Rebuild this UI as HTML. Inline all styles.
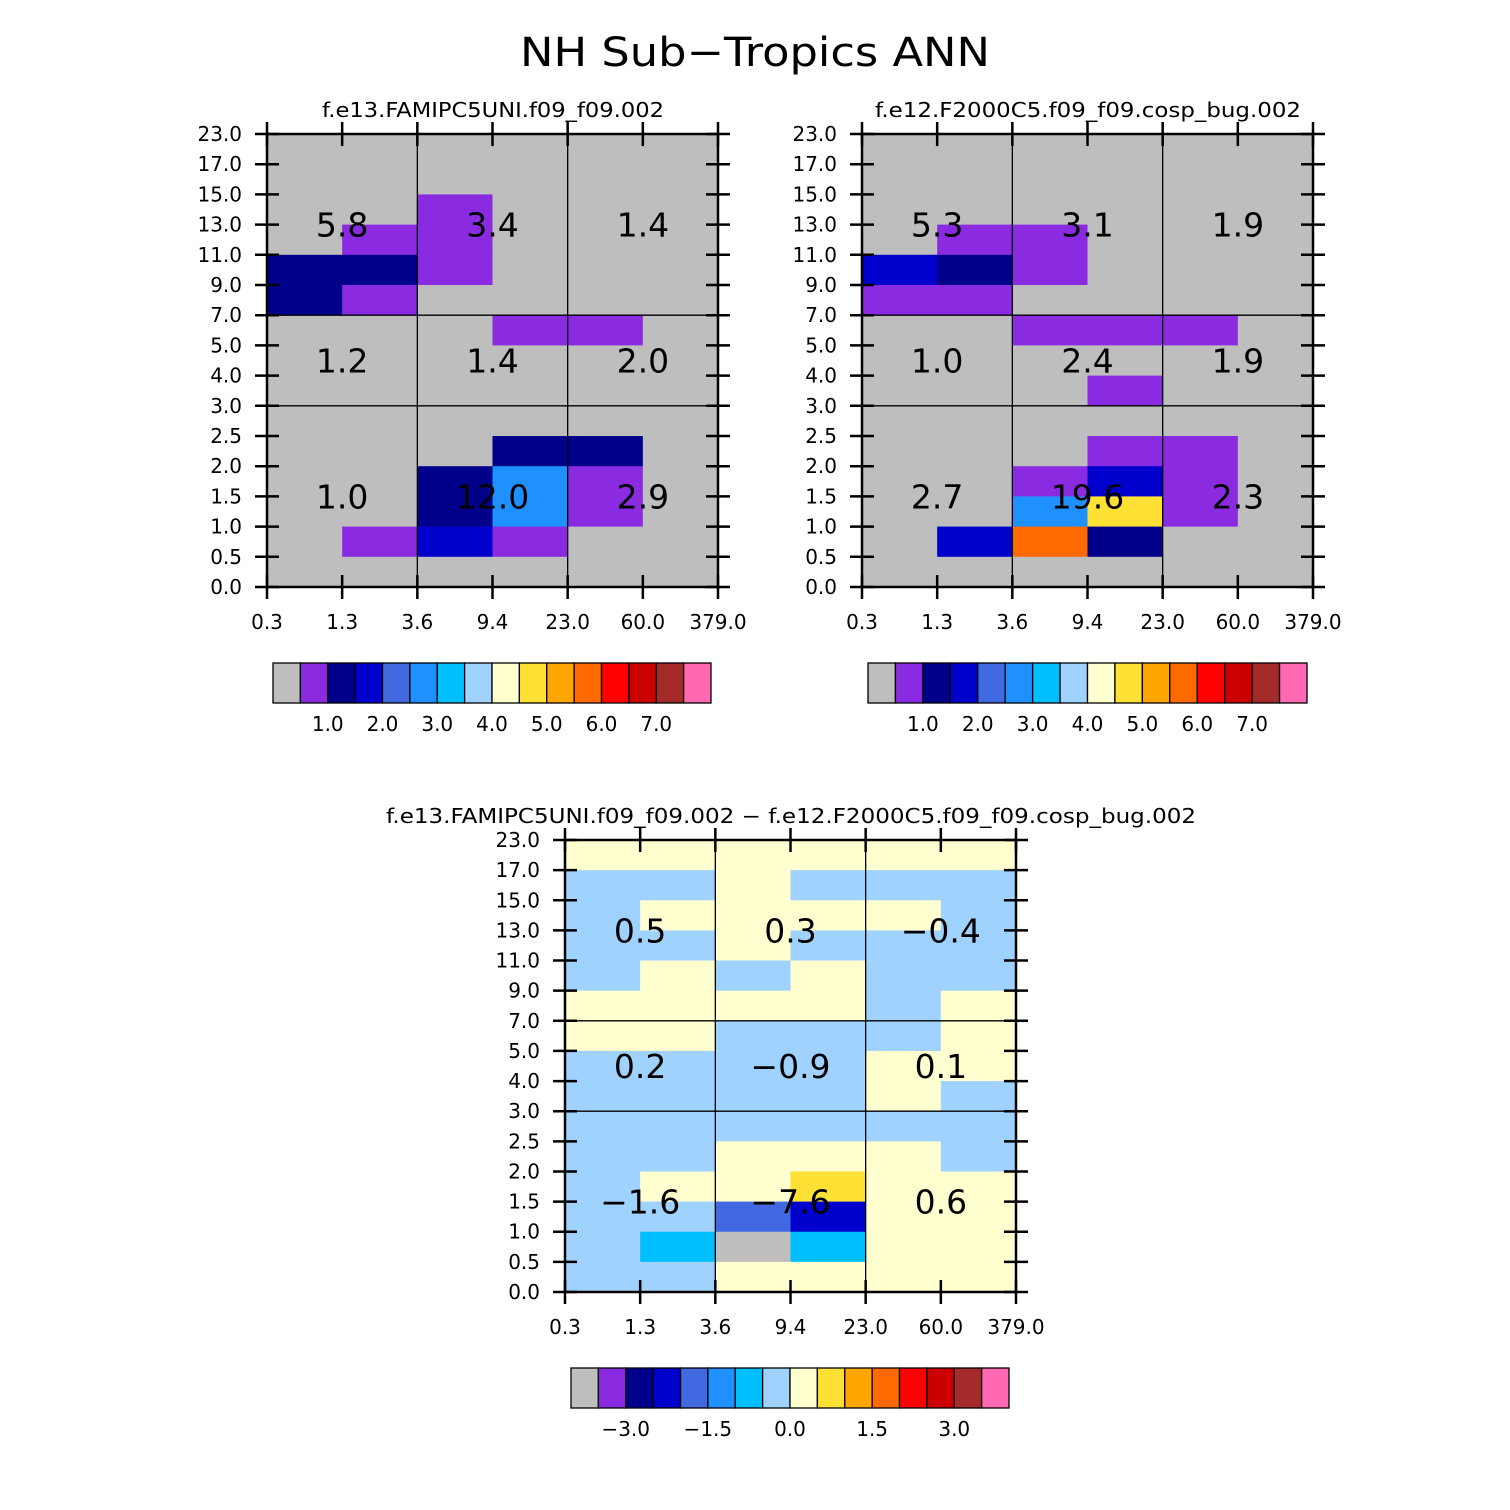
<!DOCTYPE html>
<html><head><meta charset="utf-8"><style>
body{margin:0;background:#fff}
svg{display:block}
text{font-family:"DejaVu Sans","Liberation Sans",sans-serif;fill:#000}
</style></head><body>
<svg id="s" width="1510" height="1510" viewBox="0 0 1510 1510">
<text x="755" y="66" font-size="40" text-anchor="middle" textLength="470" lengthAdjust="spacingAndGlyphs">NH Sub−Tropics ANN</text>
</svg>
<script>
const yTicks=["23.0","17.0","15.0","13.0","11.0","9.0","7.0","5.0","4.0","3.0","2.5","2.0","1.5","1.0","0.5","0.0"];
const xTicks=["0.3","1.3","3.6","9.4","23.0","60.0","379.0"];
const colors=["#bebebe","#8a2be2","#00008b","#0000cd","#4169e1","#1e90ff","#00bfff","#a0d2ff","#ffffd0","#ffe135","#ffa500","#ff6a00","#ff0000","#cc0000","#a52a2a","#ff69b4"];
const absLevels=[0.5,1,1.5,2,2.5,3,3.5,4,4.5,5,5.5,6,6.5,7,7.5];
const absLabels=["1.0","2.0","3.0","4.0","5.0","6.0","7.0"];
const absLabelIdx=[2,4,6,8,10,12,14];
const diffLevels=[-5.25,-4.5,-3.75,-3,-2.25,-1.5,-0.75,0,0.75,1.5,2.25,3,3.75,4.5,5.25];
const diffLabels=["−3.0","−1.5","0.0","1.5","3.0"];
const diffLabelIdx=[2,5,8,11,14];
const p1=[
[.2,.2,.2,.2,.2,.2],[.2,.2,.2,.2,.2,.2],[.2,.2,.8,.2,.2,.2],[.2,.8,.8,.2,.2,.2],
[1.2,1.2,.8,.2,.2,.2],[1.2,.8,.2,.2,.2,.2],[.2,.2,.2,.8,.8,.2],[.2,.2,.2,.2,.2,.2],
[.2,.2,.2,.2,.2,.2],[.2,.2,.2,.2,.2,.2],[.2,.2,.2,1.2,1.2,.2],[.2,.2,1.2,2.7,.8,.2],
[.2,.2,1.2,2.7,.8,.2],[.2,.8,1.7,.8,.2,.2],[.2,.2,.2,.2,.2,.2]];
const p2=[
[.2,.2,.2,.2,.2,.2],[.2,.2,.2,.2,.2,.2],[.2,.2,.2,.2,.2,.2],[.2,.8,.8,.2,.2,.2],
[1.7,1.2,.8,.2,.2,.2],[.8,.8,.2,.2,.2,.2],[.2,.2,.8,.8,.8,.2],[.2,.2,.2,.2,.2,.2],
[.2,.2,.2,.8,.2,.2],[.2,.2,.2,.2,.2,.2],[.2,.2,.2,.8,.8,.2],[.2,.2,.8,1.7,.8,.2],
[.2,.2,2.7,4.7,.8,.2],[.2,1.7,5.7,1.2,.2,.2],[.2,.2,.2,.2,.2,.2]];
const L=-0.3,Y=0.3;
const p3=[
[Y,Y,Y,Y,Y,Y],[L,L,Y,L,L,L],[L,Y,Y,Y,Y,L],[L,L,Y,L,L,L],[L,Y,L,Y,L,L],
[Y,Y,Y,Y,L,Y],[Y,Y,L,L,L,Y],[L,L,L,L,Y,Y],[L,L,L,L,Y,L],[L,L,L,L,L,L],
[L,L,Y,Y,Y,L],[L,Y,Y,0.9,Y,Y],[L,L,-2.5,-3.3,Y,Y],[L,-1,-6,-1,Y,Y],[L,L,Y,Y,Y,Y]];
const v1=["5.8","3.4","1.4","1.2","1.4","2.0","1.0","12.0","2.9"];
const v2=["5.3","3.1","1.9","1.0","2.4","1.9","2.7","19.6","2.3"];
const v3=["0.5","0.3","−0.4","0.2","−0.9","0.1","−1.6","−7.6","0.6"];
const NS="http://www.w3.org/2000/svg";
const svg=document.getElementById('s');
function mk(tag,attrs,parent){const e=document.createElementNS(NS,tag);for(const k in attrs)e.setAttribute(k,attrs[k]);(parent||svg).appendChild(e);return e;}
function colorOf(v,lev){let i=0;while(i<lev.length&&v>=lev[i])i++;return colors[i];}
function panel(x0,y0,w,h,grid,lev,vals,title,tx,tlen,tag){
  const g=mk('g',{});
  
  
  const nc=xTicks.length-1,nr=yTicks.length-1;
  const xs=i=>x0+i*w/nc, ys=j=>y0+j*h/nr;
  grid.forEach((row,j)=>row.forEach((v,i)=>{
    const r=mk('rect',{x:xs(i),y:ys(j),width:xs(i+1)-xs(i)+0.5,height:ys(j+1)-ys(j)+0.5,fill:colorOf(v,lev)},g);
    
    
  }));
  [2,4].forEach(i=>mk('line',{x1:xs(i),x2:xs(i),y1:y0,y2:y0+h,stroke:'#000','stroke-width':1.3},g));
  [6,9].forEach(j=>mk('line',{x1:x0,x2:x0+w,y1:ys(j),y2:ys(j),stroke:'#000','stroke-width':1.3},g));
  mk('rect',{x:x0,y:y0,width:w,height:h,fill:'none',stroke:'#000','stroke-width':2.5},g);
  yTicks.forEach((t,j)=>{
    const y=ys(j);
    mk('line',{x1:x0-12,x2:x0+12,y1:y,y2:y,stroke:'#000','stroke-width':2.5},g);
    mk('line',{x1:x0+w-12,x2:x0+w+12,y1:y,y2:y,stroke:'#000','stroke-width':2.5},g);
    const tt=mk('text',{x:x0-25,y:y+7,'font-size':20,'text-anchor':'end'},g);tt.textContent=t;
    
    
  });
  xTicks.forEach((t,i)=>{
    const x=xs(i);
    mk('line',{x1:x,x2:x,y1:y0+h-12,y2:y0+h+12,stroke:'#000','stroke-width':2.5},g);
    mk('line',{x1:x,x2:x,y1:y0-12,y2:y0+12,stroke:'#000','stroke-width':2.5},g);
    const tt=mk('text',{x:x,y:y0+h+42,'font-size':20,'text-anchor':'middle'},g);tt.textContent=t;
    
    
  });
  const gx=[1,3,5],gy=[(0+6)/2,(6+9)/2,(9+15)/2];
  vals.forEach((v,k)=>{
    const tt=mk('text',{x:xs(gx[k%3]),y:ys(gy[Math.floor(k/3)])+12,'font-size':33,'text-anchor':'middle'},g);tt.textContent=v;
    
    
  });
  const ti=mk('text',{x:tx,y:y0-17,'font-size':20,'text-anchor':'middle',textLength:tlen,lengthAdjust:'spacingAndGlyphs'},g);ti.textContent=title;
  
  
}
function cbar(x0,y0,w,h,labels,idx,tag){
  const g=mk('g',{});
  
  
  const bw=w/colors.length;
  colors.forEach((c,i)=>mk('rect',{x:x0+i*bw,y:y0,width:bw,height:h,fill:c,stroke:'#000','stroke-width':1.3},g));
  labels.forEach((t,k)=>{
    const tt=mk('text',{x:x0+idx[k]*bw,y:y0+h+28,'font-size':20,'text-anchor':'middle'},g);tt.textContent=t;
    
    
  });
}
panel(267,134,451,453,p1,absLevels,v1,"f.e13.FAMIPC5UNI.f09_f09.002",493,342,'test');
panel(862,134,451,453,p2,absLevels,v2,"f.e12.F2000C5.f09_f09.cosp_bug.002",1088,426,'control');
panel(565,840,451,452,p3,diffLevels,v3,"f.e13.FAMIPC5UNI.f09_f09.002 − f.e12.F2000C5.f09_f09.cosp_bug.002",791,810,'difference');
cbar(273,663,438,40,absLabels,absLabelIdx,'test');
cbar(868,663,439,40,absLabels,absLabelIdx,'control');
cbar(571,1368,438,40,diffLabels,diffLabelIdx,'difference');
</script>
</body></html>
